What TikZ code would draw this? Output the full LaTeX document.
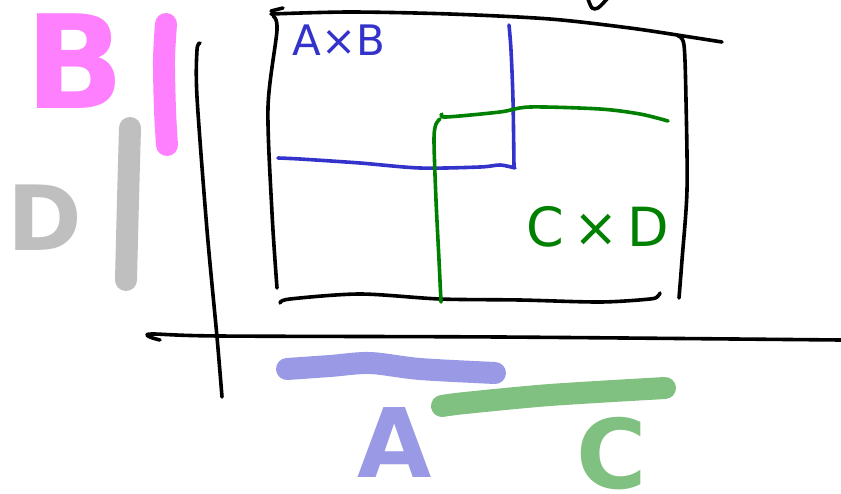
\documentclass[tikz,border=0pt]{standalone}
\usepackage{fontspec}
\setmainfont{DejaVu Sans}
\definecolor{penblue}{RGB}{51,51,204}
\definecolor{pengreen}{RGB}{0,128,0}
\definecolor{hlpink}{RGB}{255,128,255}
\definecolor{hlgray}{RGB}{191,191,191}
\definecolor{hlblue}{RGB}{153,153,230}
\definecolor{hlgreen}{RGB}{128,192,128}
\begin{document}
\begin{tikzpicture}[x=1pt,y=-1pt,
  pen/.style={line width=3.6pt,line cap=round,line join=round},
  hl/.style={line width=22pt,line cap=round,line join=round},
  bigletter/.style={inner sep=0pt,font=\bfseries}]
\useasboundingbox[fill=white] (0,0) rectangle (841,493);
% highlighter strokes
\draw[hl,hlpink] plot[smooth] coordinates {(166,24) (164,60) (165,110) (167,145)};
\draw[hl,hlgray] plot[smooth] coordinates {(130,128) (128,200) (126,280)};
\draw[hl,hlblue] plot[smooth] coordinates {(287,369) (330,366) (370,363) (420,369) (495,373)};
\draw[hl,hlgreen] plot[smooth] coordinates {(442,406) (465,403) (550,395) (665,388)};
% big letters
\node[bigletter,text=hlpink,font=\bfseries\fontsize{130}{130}\selectfont] (bigB) at (75,61) {B};
\node[bigletter,text=hlgray,font=\bfseries\fontsize{90}{90}\selectfont] (bigD) at (45,218) {D};
\node[bigletter,text=hlblue,font=\bfseries\fontsize{96}{96}\selectfont] (bigA) at (395,443) {A};
\node[bigletter,text=hlgreen,font=\bfseries\fontsize{96}{96}\selectfont] (bigC) at (612,454) {C};
% axes
\draw[pen] plot[smooth] coordinates {(200,43) (197,50) (197,97) (207,230) (217,337) (222,397)};
\draw[pen] plot[smooth] coordinates {(160,340) (150,337) (152,334) (220,336) (500,337) (841,340)};
% rectangle
\draw[pen] (271,11) -- (283,8);
\draw[pen] plot[smooth] coordinates {(271,14) (350,12) (450,14) (550,19) (630,28) (690,37) (722,42)};
\draw[pen] plot[smooth] coordinates {(273,16) (277,30) (268,107) (272,213) (277,288)};
\draw[pen] plot[smooth] coordinates {(280,303) (290,299) (360,294) (440,299) (520,300) (600,302) (650,299) (658,296) (660,293)};
\draw[pen] plot[smooth] coordinates {(678,36) (684,45) (686,100) (687,190) (682,260) (679,298)};
% top partial stroke
\draw[pen] plot[smooth] coordinates {(588,-1) (592,8) (598,8) (607,-1)};
% blue product
\draw[pen,penblue] plot[smooth] coordinates {(509,25) (511,50) (513,100) (514,167)};
\draw[pen,penblue] plot[smooth] coordinates {(278,158) (300,159) (360,163) (420,168) (480,167) (500,165) (515,168)};
\node[text=penblue,inner sep=0pt,font=\fontsize{42}{42}\selectfont] (AxB) at (339,40) {A×B};
% green product
\draw[pen,pengreen] plot[smooth] coordinates {(442,114) (446,117) (500,112) (530,107) (600,109) (640,114) (668,121)};
\draw[pen,pengreen] plot[smooth] coordinates {(440,119) (436,124) (434,140) (436,200) (439,260) (441,302)};
\node[text=pengreen,inner sep=0pt,font=\fontsize{54}{54}\selectfont] (CxD) at (598,227) {C\,×\,D};
\end{tikzpicture}
\end{document}
